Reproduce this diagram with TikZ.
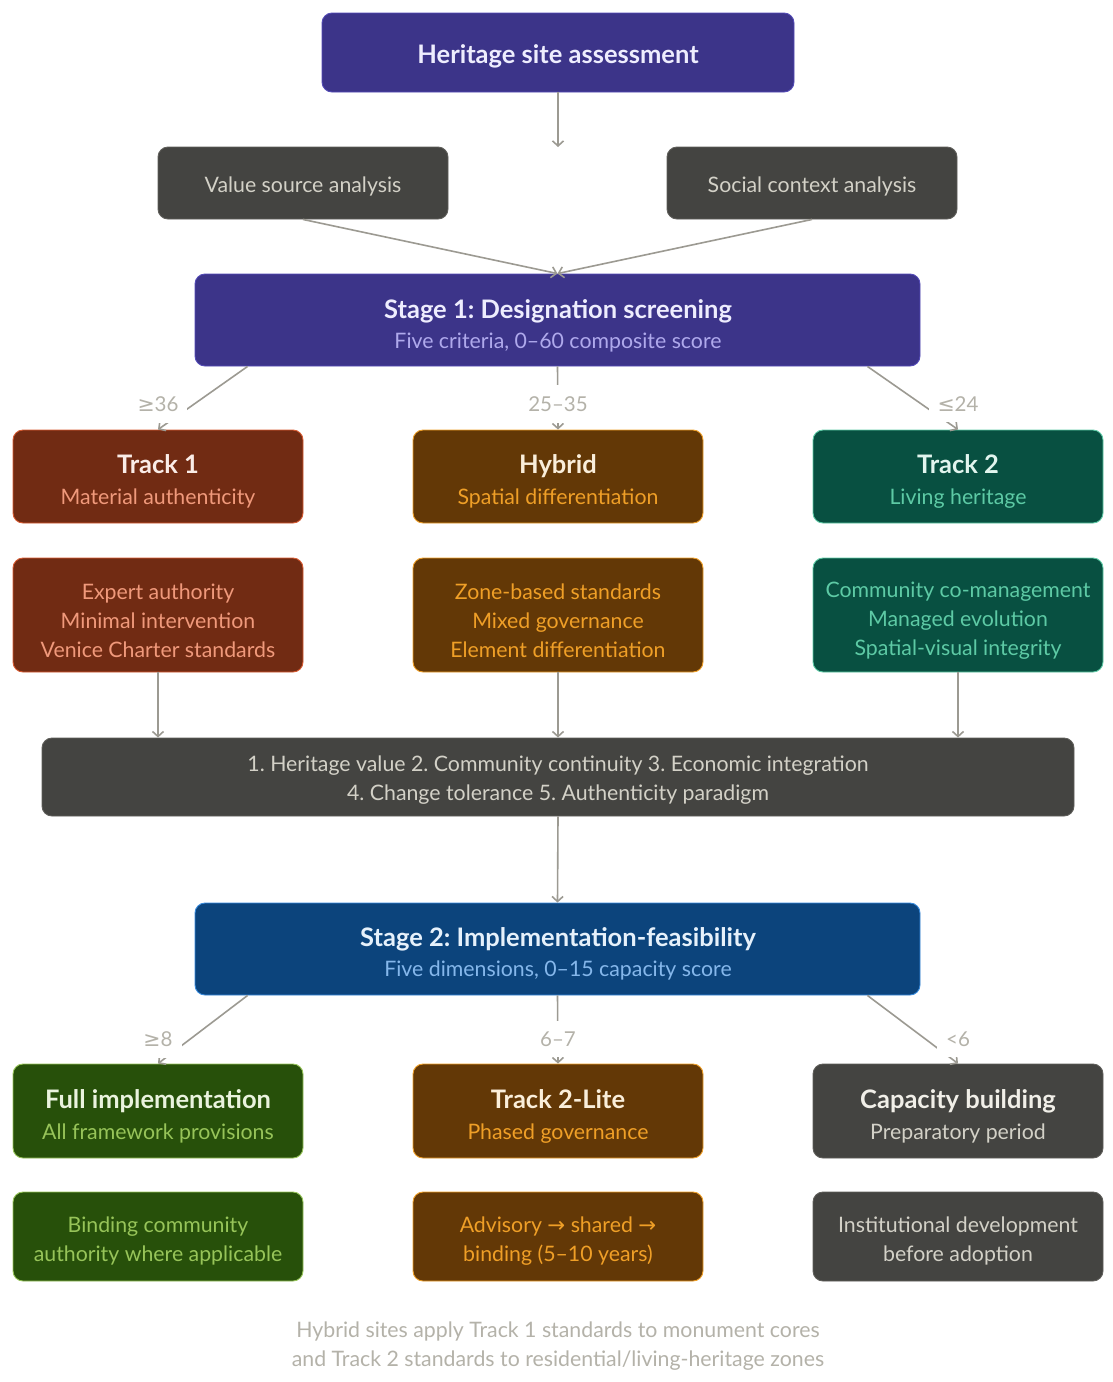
\documentclass[tikz,border=0pt]{standalone}
\usepackage{fontspec}
\setmainfont{Lato}
\newfontfamily\sym{DejaVu Sans}
\usetikzlibrary{arrows.meta,calc}
\frenchspacing
\definecolor{pur}{HTML}{3C3489}\definecolor{purB}{HTML}{534AB7}\definecolor{purT}{HTML}{EEEDFE}\definecolor{purS}{HTML}{AFA9EC}
\definecolor{gry}{HTML}{444441}\definecolor{gryB}{HTML}{5F5E5A}\definecolor{gryT}{HTML}{D3D1C7}\definecolor{gryW}{HTML}{F1EFE8}
\definecolor{cor}{HTML}{712B13}\definecolor{corB}{HTML}{D85A30}\definecolor{corT}{HTML}{FAECE7}\definecolor{corS}{HTML}{F0997B}
\definecolor{amb}{HTML}{633806}\definecolor{ambB}{HTML}{EF9F27}\definecolor{ambT}{HTML}{FAEEDA}\definecolor{ambS}{HTML}{EF9F27}
\definecolor{tea}{HTML}{085041}\definecolor{teaB}{HTML}{5DCAA5}\definecolor{teaT}{HTML}{E1F5EE}\definecolor{teaS}{HTML}{5DCAA5}
\definecolor{grn}{HTML}{27500A}\definecolor{grnB}{HTML}{97C459}\definecolor{grnT}{HTML}{EAF3DE}\definecolor{grnS}{HTML}{97C459}
\definecolor{blu}{HTML}{0C447C}\definecolor{bluB}{HTML}{378ADD}\definecolor{bluT}{HTML}{E6F1FB}\definecolor{bluS}{HTML}{85B7EB}
\definecolor{lin}{HTML}{9C9A92}\definecolor{lab}{HTML}{B4B2A9}
\tikzset{
  box/.style={rounded corners=10pt, line width=0.9pt, inner sep=0pt},
  ttl/.style={anchor=base, font=\frenchspacing\bfseries\fontsize{25.5}{30}\selectfont},
  sub/.style={anchor=base, font=\frenchspacing\fontsize{21.3}{29}\selectfont},
  body/.style={anchor=center, align=center, font=\frenchspacing\fontsize{21.3}{29}\selectfont},
  conn/.style={draw=lin, line width=1.6pt, -{Straight Barb[length=5pt,width=11pt]}},
  lbl/.style={fill=white, text=lab, font=\fontsize{20.5}{22}\selectfont, inner xsep=9pt, inner ysep=11pt}
}
\begin{document}
\begin{tikzpicture}[x=1pt,y=-1pt]
\useasboundingbox[fill=white] (0,0) rectangle (1113,1382);
% top
\node[box, fill=pur, draw=purB, minimum width=472pt, minimum height=79pt] (top) at (558,52.5) {};
\node[ttl, text=purT] (topt) at (558,63) {Heritage site assessment};
\node[box, fill=gry, draw=gryB, minimum width=290pt, minimum height=72pt] (vsa) at (303,183) {};
\node[sub, text=gryT] (vsat) at (303,192) {Value source analysis};
\node[box, fill=gry, draw=gryB, minimum width=290pt, minimum height=72pt] (sca) at (812,183) {};
\node[sub, text=gryT] (scat) at (812,192) {Social context analysis};
\coordinate (mid) at (558,147);
% stage 1
\node[box, fill=pur, draw=purB, minimum width=725pt, minimum height=92pt] (s1) at (557.5,320) {};
\node[ttl, text=purT] (s1t) at (558,318) {Stage 1: Designation screening};
\node[sub, text=purS] (s1s) at (558,348) {Five criteria, 0–60 composite score};
% row 1
\node[box, fill=cor, draw=corB, minimum width=290pt, minimum height=93pt] (t1) at (158,476.5) {};
\node[ttl, text=corT] (t1t) at (158,473) {Track 1};
\node[sub, text=corS] (t1s) at (158,504) {Material authenticity};
\node[box, fill=amb, draw=ambB, minimum width=290pt, minimum height=93pt] (hy) at (558,476.5) {};
\node[ttl, text=ambT] (hyt) at (558,473) {Hybrid};
\node[sub, text=ambS] (hys) at (558,504) {Spatial differentiation};
\node[box, fill=tea, draw=teaB, minimum width=290pt, minimum height=93pt] (t2) at (958,476.5) {};
\node[ttl, text=teaT] (t2t) at (958,473) {Track 2};
\node[sub, text=teaS] (t2s) at (958,504) {Living heritage};
% row 2
\node[box, fill=cor, draw=corB, minimum width=290pt, minimum height=114pt] (d1) at (158,615) {};
\node[body, text=corS] (d1t) at (158,620.5) {Expert authority\\Minimal intervention\\Venice Charter standards};
\node[box, fill=amb, draw=ambB, minimum width=290pt, minimum height=114pt] (d2) at (558,615) {};
\node[body, text=ambS] (d2t) at (558,620.5) {Zone-based standards\\Mixed governance\\Element differentiation};
\node[box, fill=tea, draw=teaB, minimum width=290pt, minimum height=114pt] (d3) at (958,615) {};
\node[body, text=teaS] (d3t) at (958,620.5) {Community co-management\\Managed evolution\\Spatial-visual integrity};
% criteria
\node[box, fill=gry, draw=gryB, minimum width=1032pt, minimum height=78pt] (crit) at (558,777) {};
\node[body, text=gryT] (critt) at (558,780.5) {1. Heritage value 2. Community continuity 3. Economic integration\\4. Change tolerance 5. Authenticity paradigm};
% stage 2
\node[box, fill=blu, draw=bluB, minimum width=725pt, minimum height=92pt] (s2) at (557.5,949) {};
\node[ttl, text=bluT] (s2t) at (558,946) {Stage 2: Implementation-feasibility};
\node[sub, text=bluS] (s2s) at (558,976) {Five dimensions, 0–15 capacity score};
% row 3
\node[box, fill=grn, draw=grnB, minimum width=290pt, minimum height=94pt] (f1) at (158,1111) {};
\node[ttl, text=grnT] (f1t) at (158,1108) {Full implementation};
\node[sub, text=grnS] (f1s) at (158,1139) {All framework provisions};
\node[box, fill=amb, draw=ambB, minimum width=290pt, minimum height=94pt] (f2) at (558,1111) {};
\node[ttl, text=ambT] (f2t) at (558,1108) {Track 2-Lite};
\node[sub, text=ambS] (f2s) at (558,1139) {Phased governance};
\node[box, fill=gry, draw=gryB, minimum width=290pt, minimum height=94pt] (f3) at (958,1111) {};
\node[ttl, text=gryW] (f3t) at (958,1108) {Capacity building};
\node[sub, text=gryT] (f3s) at (958,1139) {Preparatory period};
% row 4
\node[box, fill=grn, draw=grnB, minimum width=290pt, minimum height=89pt] (g1) at (158,1236.5) {};
\node[body, text=grnS] (g1t) at (158,1241) {Binding community\\authority where applicable};
\node[box, fill=amb, draw=ambB, minimum width=290pt, minimum height=89pt] (g2) at (558,1236.5) {};
\node[body, text=ambS] (g2t) at (558,1241) {Advisory {\sym→} shared {\sym→}\\binding (5–10 years)};
\node[box, fill=gry, draw=gryB, minimum width=290pt, minimum height=89pt] (g3) at (958,1236.5) {};
\node[body, text=gryT] (g3t) at (958,1241) {Institutional development\\before adoption};
% footer
\node[body, text=lab] (foot) at (558,1346) {Hybrid sites apply Track 1 standards to monument cores\\and Track 2 standards to residential/living-heritage zones};
% connectors
\draw[conn] (top) -- (mid);
\draw[conn] (vsa.south) -- (s1.north);
\draw[conn] (sca.south) -- (s1.north);
\draw[conn] ([xshift=53pt]s1.south west) -- (t1.north);
\draw[conn] (s1.south) -- (hy.north);
\draw[conn] ([xshift=-53pt]s1.south east) -- (t2.north);
\node[lbl] (l1) at (158,404) {{\sym≥}36};
\node[lbl] (l2) at (558,404) {25–35};
\node[lbl] (l3) at (958,404) {{\sym≤}24};
\draw[conn] (d1.south) -- (d1.south |- crit.north);
\draw[conn] (d2.south) -- (d2.south |- crit.north);
\draw[conn] (d3.south) -- (d3.south |- crit.north);
\draw[conn] (crit.south) -- (s2.north);
\draw[conn] ([xshift=53pt]s2.south west) -- (f1.north);
\draw[conn] (s2.south) -- (f2.north);
\draw[conn] ([xshift=-53pt]s2.south east) -- (f3.north);
\node[lbl] (m1) at (158,1039) {{\sym≥}8};
\node[lbl] (m2) at (558,1039) {6–7};
\node[lbl] (m3) at (958,1039) {<6};
\end{tikzpicture}
\end{document}
